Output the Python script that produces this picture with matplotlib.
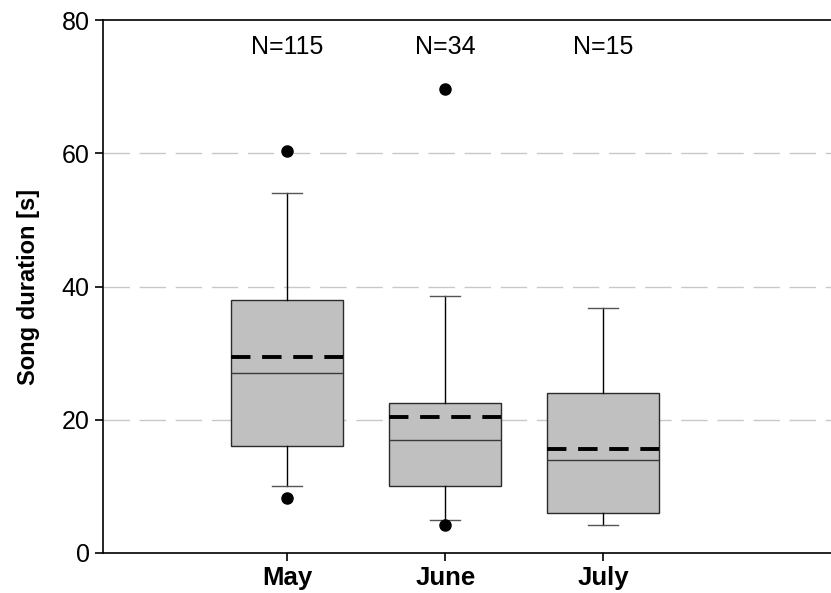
import matplotlib.pyplot as plt

plt.rcParams['font.family'] = ['Liberation Sans', 'DejaVu Sans']

months = ["May", "June", "July"]
counts = [115, 34, 15]
whislo = [10.0, 5.0, 4.2]
q1 = [16.0, 10.0, 6.0]
med = [27.0, 17.0, 14.0]
q3 = [38.0, 22.5, 24.0]
whishi = [54.0, 38.5, 36.8]
means = [29.4, 20.4, 15.6]
fliers = [[60.4, 8.2], [69.6, 4.2], []]

stats = []
for i in range(len(months)):
    stats.append(dict(whislo=whislo[i], q1=q1[i], med=med[i], q3=q3[i],
                      whishi=whishi[i], mean=means[i], fliers=fliers[i]))

fig = plt.figure(figsize=(8.31, 5.93), dpi=100)
ax = fig.add_axes([103 / 831, 40 / 593, 728 / 831, 533 / 593])

positions = [1, 2, 3]
ax.bxp(stats, positions=positions, widths=0.71, patch_artist=True,
       showmeans=True, meanline=True, showfliers=True,
       boxprops=dict(facecolor="#c0c0c0", edgecolor="#2b2b2b", linewidth=1.0),
       medianprops=dict(color="#3a3a3a", linewidth=1.0),
       meanprops=dict(color="black", linestyle=(0, (5, 3)), linewidth=2.8),
       whiskerprops=dict(color="black", linewidth=1.0),
       capprops=dict(color="#555555", linewidth=1.0), capwidths=0.19,
       flierprops=dict(marker="o", markerfacecolor="black",
                       markeredgecolor="black", markersize=8),
       zorder=3)

for y in [20, 40, 60]:
    ax.axhline(y, color="#c8c8c8", linewidth=1.0, linestyle=(0, (19, 7)), zorder=1)

for p, n in zip(positions, counts):
    ax.text(p, 76.0, "N=%d" % n, ha="center", va="center", fontsize=18)

ax.set_xlim(-0.165, 4.44)
ax.set_ylim(0, 80)
ax.set_yticks([0, 20, 40, 60, 80])
ax.set_xticks(positions)
ax.set_xticklabels(months, fontsize=18.5, fontweight="bold")
ax.tick_params(axis="y", labelsize=18, direction="out", length=6, width=1.2)
ax.tick_params(axis="x", direction="out", length=6, width=1.2)
ax.set_ylabel("Song duration [s]", fontsize=17, fontweight="bold", labelpad=16)

ax.spines["right"].set_visible(False)
for s in ["left", "bottom", "top"]:
    ax.spines[s].set_linewidth(1.2)

fig.savefig("out.png", dpi=100)
